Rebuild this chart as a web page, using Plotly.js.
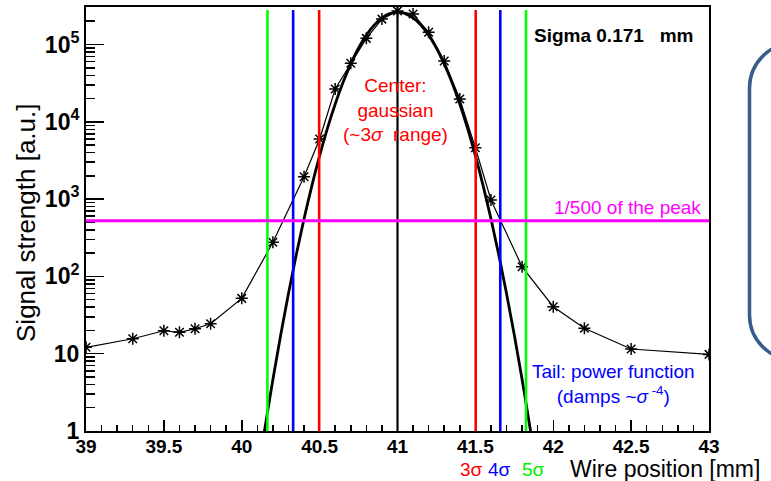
<!DOCTYPE html>
<html>
<head>
<meta charset="utf-8">
<script src="https://cdn.plot.ly/plotly-3.0.1.min.js"></script>
<style>html,body{margin:0;padding:0;background:#fff;}#chart{width:771px;height:481px;}</style>
</head>
<body>
<div id="chart"></div>
<script>
// Measured wire signal (points with asterisks)
var wirePos = [39, 39.3, 39.5, 39.6, 39.7, 39.8, 40, 40.2, 40.4, 40.5, 40.6, 40.7, 40.8, 40.9, 41, 41.1, 41.2, 41.3, 41.4, 41.5, 41.6, 41.8, 42, 42.2, 42.5, 43];
var signal  = [12.1, 15.6, 19.8, 18.9, 21, 24.4, 52, 276, 1950, 5990, 26600, 57100, 120000, 213000, 271000, 248000, 144000, 61200, 19700, 4620, 973, 133, 40.5, 21.3, 11.5, 9.8];

// Gaussian fit curve
var fitPos = [40.14, 40.15, 40.2, 40.25, 40.3, 40.35, 40.4, 40.45, 40.5, 40.55, 40.6, 40.65, 40.7, 40.75, 40.8, 40.85, 40.9, 40.95, 41, 41.05, 41.1, 41.15, 41.2, 41.25, 41.3, 41.35, 41.4, 41.45, 41.5, 41.55, 41.6, 41.65, 41.7, 41.75, 41.8, 41.85, 41.86];
var fitVal = [0.84, 1.13, 4.63, 17.4, 60.2, 191, 556, 1486, 3646, 8213, 16990, 32250, 56230, 89980, 132200, 178300, 220800, 251000, 262000, 251000, 220800, 178300, 132200, 89980, 56230, 32250, 16990, 8213, 3646, 1486, 556, 191, 60.2, 17.4, 4.63, 1.13, 0.84];

// Vertical marker lines (5σ, 4σ, 3σ, center, 3σ, 4σ, 5σ)
var markerPos    = [40.165, 40.33, 40.497, 41.0, 41.502, 41.66, 41.825];
var markerColors = ['#00ff00', '#0000ff', '#ff0000', '#000000', '#ff0000', '#0000ff', '#00ff00'];

// 1/500 of the peak level
var peakFraction = 524;

// Tick labels
var xTickVals = [39, 39.5, 40, 40.5, 41, 41.5, 42, 42.5, 43];
var xTickText = ['39', '39.5', '40', '40.5', '41', '41.5', '42', '42.5', '43'];
var xMinorTicks = [39.1, 39.2, 39.3, 39.4, 39.6, 39.7, 39.8, 39.9, 40.1, 40.2, 40.3, 40.4, 40.6, 40.7, 40.8, 40.9,
                   41.1, 41.2, 41.3, 41.4, 41.6, 41.7, 41.8, 41.9, 42.1, 42.2, 42.3, 42.4, 42.6, 42.7, 42.8, 42.9];
var yTickVals = [1, 10, 100, 1000, 10000, 100000];
var yTickText = ['1', '10', '10<sup>2</sup>', '10<sup>3</sup>', '10<sup>4</sup>', '10<sup>5</sup>'];
var yMinorTicks = [2, 3, 4, 5, 6, 7, 8, 9,
                   20, 30, 40, 50, 60, 70, 80, 90,
                   200, 300, 400, 500, 600, 700, 800, 900,
                   2000, 3000, 4000, 5000, 6000, 7000, 8000, 9000,
                   20000, 30000, 40000, 50000, 60000, 70000, 80000, 90000,
                   200000, 300000];

var FONT = 'Liberation Sans, Arial, Helvetica, sans-serif';

var traces = [
  {
    x: fitPos, y: fitVal, type: 'scatter', mode: 'lines',
    line: {color: '#000', width: 2.8, shape: 'spline'},
    hoverinfo: 'skip'
  },
  {
    x: wirePos, y: signal, type: 'scatter', mode: 'lines+markers',
    line: {color: '#000', width: 1.2},
    marker: {symbol: 'asterisk-open', size: 10, color: '#000', line: {color: '#000', width: 1.5}}
  }
];

var shapes = [];
for (var i = 0; i < markerPos.length; i++) {
  shapes.push({
    type: 'line', xref: 'x', yref: 'paper',
    x0: markerPos[i], x1: markerPos[i], y0: 0, y1: (i === 3 ? 1 : 0.993),
    line: {color: markerColors[i], width: (i === 3 ? 2.2 : 2.6)}
  });
}
shapes.push({
  type: 'line', xref: 'paper', yref: 'y',
  x0: 0, x1: 1, y0: peakFraction, y1: peakFraction,
  line: {color: '#ff00ff', width: 3}
});
// Decorative rounded box at the right edge (slide frame)
shapes.push({
  type: 'path', xref: 'paper', yref: 'paper',
  path: 'M 1.137,0.915 C 1.0974,0.915 1.065,0.8675 1.065,0.809 L 1.065,0.2736 C 1.065,0.2151 1.0974,0.1675 1.137,0.1675',
  line: {color: '#385D8A', width: 3.5}
});

var annotations = [
  {xref: 'paper', yref: 'paper', x: 0.716, y: 0.932, xanchor: 'left', yanchor: 'middle', showarrow: false,
   text: 'Sigma 0.171\u00A0\u00A0\u00A0mm', font: {family: FONT, size: 19, color: '#000', weight: 'bold'}},
  {xref: 'paper', yref: 'paper', x: 0.869, y: 0.526, xanchor: 'center', yanchor: 'middle', showarrow: false,
   text: '1/500 of the peak', font: {family: FONT, size: 19, color: '#ff00ff'}},
  {xref: 'paper', yref: 'paper', x: 0.496, y: 0.756, xanchor: 'center', yanchor: 'middle', showarrow: false,
   text: 'Center:<br>gaussian<br>(~3<i>\u03C3</i>\u00A0\u00A0range)', font: {family: FONT, size: 19, color: '#ff0000'}},
  {xref: 'paper', yref: 'paper', x: 0.8475, y: 0.112, xanchor: 'center', yanchor: 'middle', showarrow: false,
   text: 'Tail: power function<br>(damps ~<i>\u03C3</i><sup>\u00A0-4</sup>)', font: {family: FONT, size: 19, color: '#0000ff'}},
  {xref: 'paper', yref: 'paper', x: 0.618, y: -0.09, xanchor: 'center', yanchor: 'middle', showarrow: false,
   text: '3\u03C3', font: {family: FONT, size: 19, color: '#ff0000'}},
  {xref: 'paper', yref: 'paper', x: 0.6645, y: -0.09, xanchor: 'center', yanchor: 'middle', showarrow: false,
   text: '4\u03C3', font: {family: FONT, size: 19, color: '#0000ff'}},
  {xref: 'paper', yref: 'paper', x: 0.7175, y: -0.09, xanchor: 'center', yanchor: 'middle', showarrow: false,
   text: '5\u03C3', font: {family: FONT, size: 19, color: '#00ee00'}},
  {xref: 'paper', yref: 'paper', x: 0.929, y: -0.09, xanchor: 'center', yanchor: 'middle', showarrow: false,
   text: 'Wire position [mm]', font: {family: FONT, size: 23, color: '#000'}},
  {xref: 'paper', yref: 'paper', x: -0.0963, y: 0.4906, xanchor: 'center', yanchor: 'middle', showarrow: false,
   textangle: -90, text: 'Signal strength [a.u.]', font: {family: FONT, size: 26, color: '#000'}}
];

var layout = {
  width: 771, height: 481,
  margin: {l: 86, r: 62, t: 7, b: 50, pad: 0},
  paper_bgcolor: '#fff', plot_bgcolor: '#fff',
  showlegend: false,
  xaxis: {
    range: [39, 43], tickmode: 'array', tickvals: xTickVals, ticktext: xTickText,
    ticks: 'inside', ticklen: 11, tickwidth: 1.5, tickcolor: '#000',
    showline: true, linewidth: 2, linecolor: '#000', mirror: true,
    showgrid: false, zeroline: false, ticklabelstandoff: -3,
    tickfont: {family: FONT, size: 19, color: '#000', weight: 'bold'},
    minor: {tickmode: 'array', tickvals: xMinorTicks, ticks: 'inside', ticklen: 6, tickwidth: 1.5, tickcolor: '#000', showgrid: false}
  },
  yaxis: {
    type: 'log', range: [0, 5.485], tickmode: 'array', tickvals: yTickVals, ticktext: yTickText,
    ticks: 'inside', ticklen: 18, tickwidth: 1.5, tickcolor: '#000',
    showline: true, linewidth: 2, linecolor: '#000', mirror: true,
    showgrid: false, zeroline: false,
    tickfont: {family: FONT, size: 23, color: '#000', weight: 'bold'},
    minor: {tickmode: 'array', tickvals: yMinorTicks, ticks: 'inside', ticklen: 9, tickwidth: 1.5, tickcolor: '#000', showgrid: false}
  },
  shapes: shapes,
  annotations: annotations
};

Plotly.newPlot('chart', traces, layout, {staticPlot: true, displayModeBar: false});
</script>
</body>
</html>
